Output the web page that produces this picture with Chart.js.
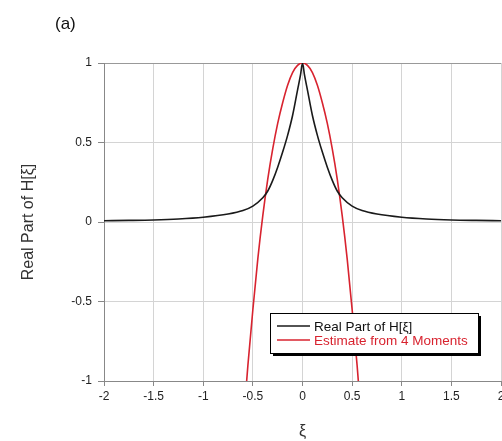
<!DOCTYPE html>
<html>
<head>
<meta charset="utf-8">
<script src="https://cdn.jsdelivr.net/npm/chart.js@4"></script>
<style>
  html, body { margin: 0; padding: 0; background: #fff; }
  #wrap { width: 502px; height: 441px; }
</style>
</head>
<body>
<div id="wrap"><canvas id="chart" width="502" height="441"></canvas></div>
<script>
// values
const xiReal = [-2, -1.75, -1.5, -1.25, -1, -0.75, -0.6, -0.5, -0.4, -0.35, -0.3, -0.25, -0.2, -0.15, -0.1, -0.05, -0.02, 0,
                0.02, 0.05, 0.1, 0.15, 0.2, 0.25, 0.3, 0.35, 0.4, 0.5, 0.6, 0.75, 1, 1.25, 1.5, 1.75, 2];
const realPart = [0.008, 0.01, 0.013, 0.019, 0.03, 0.05, 0.072, 0.10, 0.152, 0.195, 0.262, 0.345, 0.44, 0.545, 0.67, 0.83, 0.925, 1,
                  0.925, 0.83, 0.67, 0.545, 0.44, 0.345, 0.262, 0.195, 0.152, 0.10, 0.072, 0.05, 0.03, 0.019, 0.013, 0.01, 0.008];

const xiEst = [-0.6, -0.55, -0.5, -0.45, -0.4, -0.35, -0.3, -0.25, -0.2, -0.15, -0.1, -0.05, 0,
               0.05, 0.1, 0.15, 0.2, 0.25, 0.3, 0.35, 0.4, 0.45, 0.5, 0.55, 0.6];
const estimate = [-1.3, -0.9, -0.55, -0.23, 0.04, 0.27, 0.46, 0.62, 0.75, 0.86, 0.94, 0.985, 1,
                  0.985, 0.94, 0.86, 0.75, 0.62, 0.46, 0.27, 0.04, -0.23, -0.55, -0.9, -1.3];

const xTicks = [-2, -1.5, -1, -0.5, 0, 0.5, 1, 1.5, 2];
const yTicks = [-1, -0.5, 0, 0.5, 1];

const seriesNames = ["Real Part of H[\u03BE]", "Estimate from 4 Moments"];
const seriesColors = ["#1a1a1a", "#d8232f"];

const toPoints = (xs, ys) => xs.map((x, i) => ({ x: x, y: ys[i] }));

// legend box with drop shadow, drawn inside the plot
const boxLegend = {
  id: "boxLegend",
  afterDraw(chart) {
    const ctx = chart.ctx;
    const x = 270, y = 313, w = 208, h = 40;
    ctx.save();
    ctx.fillStyle = "#000";
    ctx.fillRect(x + 3, y + 3, w, h);
    ctx.fillStyle = "#fff";
    ctx.fillRect(x, y, w, h);
    ctx.strokeStyle = "#000";
    ctx.lineWidth = 1;
    ctx.strokeRect(x + 0.5, y + 0.5, w, h);
    ctx.font = "13.5px 'Liberation Sans', Arial, sans-serif";
    ctx.textBaseline = "middle";
    chart.data.datasets.forEach((ds, i) => {
      const ly = y + 13 + i * 14;
      ctx.strokeStyle = ds.borderColor;
      ctx.lineWidth = 1.5;
      ctx.beginPath();
      ctx.moveTo(x + 7, ly);
      ctx.lineTo(x + 40, ly);
      ctx.stroke();
      ctx.fillStyle = i === 0 ? "#111" : ds.borderColor;
      ctx.fillText(ds.label, x + 44, ly + 1);
    });
    // panel tag
    ctx.fillStyle = "#111";
    ctx.font = "17px 'Liberation Sans', Arial, sans-serif";
    ctx.textBaseline = "alphabetic";
    ctx.fillText("(a)", 55, 29);
    ctx.restore();
  }
};

new Chart(document.getElementById("chart"), {
  type: "line",
  data: {
    datasets: [
      {
        label: seriesNames[0],
        data: toPoints(xiReal, realPart),
        borderColor: seriesColors[0],
        borderWidth: 1.6,
        pointRadius: 0,
        cubicInterpolationMode: "monotone"
      },
      {
        label: seriesNames[1],
        data: toPoints(xiEst, estimate),
        borderColor: seriesColors[1],
        borderWidth: 1.6,
        pointRadius: 0,
        cubicInterpolationMode: "monotone"
      }
    ]
  },
  options: {
    responsive: false,
    animation: false,
    layout: { padding: { left: 0, top: 63, right: 1, bottom: 0 } },
    plugins: {
      legend: { display: false },
      tooltip: { enabled: false }
    },
    scales: {
      x: {
        type: "linear",
        min: -2,
        max: 2,
        afterBuildTicks: (s) => { s.ticks = xTicks.map(v => ({ value: v })); },
        afterFit: (s) => { s.height = 60; s.paddingLeft = 0; s.paddingRight = 0; },
        grid: {
          color: "#d4d4d4",
          tickColor: "#888",
          tickLength: 5
        },
        border: { color: "#888" },
        ticks: {
          color: "#222",
          padding: 3,
          maxRotation: 0,
          callback: (v) => String(v),
          font: { family: "'Liberation Sans', Arial, sans-serif", size: 12 }
        },
        title: {
          display: true,
          text: "\u03BE",
          color: "#333",
          padding: { top: 0, bottom: 0 },
          font: { family: "'Liberation Sans', Arial, sans-serif", size: 16 }
        }
      },
      y: {
        type: "linear",
        min: -1,
        max: 1,
        afterBuildTicks: (s) => { s.ticks = yTicks.map(v => ({ value: v })); },
        afterFit: (s) => { s.width = 104; s.paddingTop = 0; s.paddingBottom = 0; },
        grid: {
          color: (c) => (c.tick && c.tick.value === 1 ? "#999" : "#d4d4d4"),
          tickColor: "#888",
          tickLength: 6
        },
        border: { color: "#888" },
        ticks: {
          color: "#222",
          padding: 6,
          callback: (v) => String(v),
          font: { family: "'Liberation Sans', Arial, sans-serif", size: 12 }
        },
        title: {
          display: true,
          text: "Real Part of H[\u03BE]",
          color: "#333",
          padding: { top: 19, bottom: 0 },
          font: { family: "'Liberation Sans', Arial, sans-serif", size: 16 }
        }
      }
    }
  },
  plugins: [boxLegend]
});
</script>
</body>
</html>
